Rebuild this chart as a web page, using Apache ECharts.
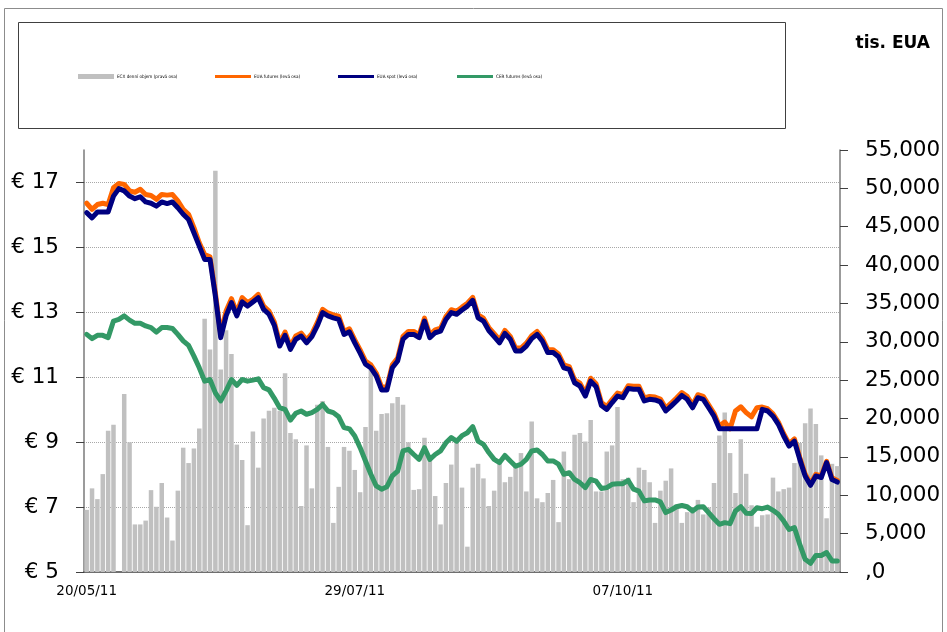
<!DOCTYPE html>
<html>
<head>
<meta charset="utf-8">
<script src="https://cdn.jsdelivr.net/npm/echarts@6/dist/echarts.min.js"></script>
<style>
  html, body { margin: 0; padding: 0; background: #fff; }
  #chart { width: 947px; height: 632px; }
</style>
</head>
<body>
<div id="chart"></div>
<script>
// ECX denni objem (tis. EUA), prava osa
let volume = [
  8100, 10900, 9500, 12760, 18400, 19200, 0, 23200, 16900, 6200,
  6200, 6700, 10670, 8500, 11600, 7100, 4100, 10600, 16200, 14200,
  16100, 18700, 33000, 29000, 52300, 26400, 31500, 28400, 16600, 14600,
  6100, 18300, 13600, 20000, 21000, 21400, 21000, 25900, 18100, 17300,
  8600, 16500, 10900, 21800, 22300, 16300, 6400, 11100, 16300, 15800,
  13300, 10400, 18900, 26400, 18400, 20600, 20700, 22000, 22800, 21800,
  16900, 10700, 10800, 17500, 14700, 9900, 6200, 11600, 14000, 17100,
  11000, 3300, 13600, 14100, 12200, 8600, 10600, 14400, 11700, 12400,
  13800, 15500, 10500, 19600, 9600, 9100, 10300, 12000, 6500, 15700,
  12100, 17900, 18100, 17000, 19800, 10500, 10500, 15700, 16500, 21500,
  12100, 12300, 9100, 13600, 13300, 11700, 6400, 10600, 11900, 13500,
  8800, 6400, 7800, 7800, 9400, 7500, 8400, 11600, 17800, 20800,
  15500, 10300, 17300, 12800, 8700, 5900, 7400, 7500, 12300, 10500,
  10800, 11000, 14200, 16800, 19400, 21300, 19300, 15200, 7000, 14100,
  13800
]

// EUA futures, leva osa (EUR)
let euaFutures = [
  16.36, 16.17, 16.32, 16.36, 16.32, 16.84, 16.97, 16.94, 16.74, 16.70,
  16.79, 16.63, 16.60, 16.48, 16.63, 16.61, 16.63, 16.43, 16.17, 16.02,
  15.61, 15.14, 14.78, 14.71, 13.60, 12.32, 13.04, 13.42, 12.99, 13.45,
  13.30, 13.40, 13.55, 13.19, 13.04, 12.70, 12.06, 12.39, 11.95, 12.27,
  12.36, 12.15, 12.34, 12.68, 13.09, 12.98, 12.92, 12.88, 12.41, 12.49,
  12.15, 11.84, 11.50, 11.38, 11.13, 10.70, 10.70, 11.38, 11.59, 12.26,
  12.41, 12.41, 12.31, 12.82, 12.31, 12.46, 12.51, 12.87, 13.08, 13.03,
  13.16, 13.28, 13.46, 12.92, 12.82, 12.53, 12.34, 12.15, 12.44, 12.26,
  11.90, 11.90, 12.05, 12.28, 12.41, 12.20, 11.85, 11.85, 11.72, 11.38,
  11.33, 10.92, 10.82, 10.51, 10.97, 10.80, 10.22, 10.10, 10.31, 10.51,
  10.46, 10.74, 10.72, 10.72, 10.36, 10.41, 10.39, 10.33, 10.05, 10.20,
  10.36, 10.53, 10.41, 10.15, 10.46, 10.41, 10.15, 9.89, 9.50, 9.62,
  9.41, 9.96, 10.09, 9.91, 9.78, 10.06, 10.08, 10.03, 9.87, 9.62,
  9.26, 8.95, 9.10, 8.53, 8.02, 7.72, 8.01, 7.96, 8.41, 7.90,
  7.82
]

// EUA spot, leva osa (EUR)
let euaSpot = [
  16.07, 15.91, 16.09, 16.09, 16.09, 16.58, 16.81, 16.74, 16.58, 16.50,
  16.56, 16.40, 16.36, 16.27, 16.40, 16.35, 16.40, 16.22, 16.02, 15.86,
  15.45, 15.04, 14.63, 14.63, 13.50, 12.22, 12.89, 13.30, 12.89, 13.32,
  13.19, 13.32, 13.45, 13.09, 12.94, 12.60, 11.96, 12.29, 11.86, 12.17,
  12.27, 12.06, 12.25, 12.58, 12.99, 12.89, 12.83, 12.78, 12.32, 12.40,
  12.06, 11.74, 11.40, 11.29, 11.04, 10.61, 10.61, 11.29, 11.50, 12.17,
  12.32, 12.32, 12.22, 12.73, 12.22, 12.37, 12.42, 12.78, 12.99, 12.94,
  13.07, 13.19, 13.37, 12.83, 12.73, 12.44, 12.25, 12.06, 12.35, 12.17,
  11.81, 11.81, 11.96, 12.19, 12.32, 12.11, 11.76, 11.76, 11.63, 11.29,
  11.24, 10.83, 10.73, 10.42, 10.88, 10.71, 10.13, 10.01, 10.22, 10.42,
  10.37, 10.65, 10.63, 10.63, 10.27, 10.32, 10.30, 10.24, 9.96, 10.11,
  10.27, 10.44, 10.32, 10.06, 10.37, 10.32, 10.06, 9.80, 9.41, 9.41,
  9.41, 9.41, 9.41, 9.41, 9.41, 9.41, 10.01, 9.96, 9.80, 9.55,
  9.19, 8.88, 9.03, 8.47, 7.96, 7.67, 7.96, 7.91, 8.37, 7.85,
  7.77
]

// CER futures, leva osa (EUR)
let cerFutures = [
  12.32, 12.19, 12.29, 12.29, 12.22, 12.73, 12.78, 12.89, 12.76, 12.66,
  12.66, 12.58, 12.53, 12.39, 12.53, 12.53, 12.50, 12.32, 12.12, 11.98,
  11.65, 11.29, 10.88, 10.93, 10.52, 10.27, 10.58, 10.93, 10.75, 10.93,
  10.88, 10.91, 10.95, 10.68, 10.61, 10.35, 10.06, 10.01, 9.68, 9.89,
  9.96, 9.86, 9.91, 10.01, 10.16, 9.96, 9.91, 9.78, 9.45, 9.41,
  9.19, 8.83, 8.42, 8.01, 7.65, 7.55, 7.63, 7.96, 8.11, 8.73,
  8.78, 8.62, 8.47, 8.83, 8.47, 8.62, 8.73, 8.98, 9.14, 9.03,
  9.20, 9.29, 9.48, 9.03, 8.93, 8.68, 8.47, 8.37, 8.59, 8.42,
  8.26, 8.32, 8.47, 8.73, 8.76, 8.62, 8.42, 8.42, 8.32, 8.01,
  8.06, 7.85, 7.75, 7.60, 7.85, 7.80, 7.57, 7.60, 7.70, 7.72,
  7.72, 7.82, 7.55, 7.49, 7.19, 7.22, 7.22, 7.16, 6.83, 6.91,
  7.01, 7.05, 7.01, 6.88, 7.00, 7.01, 6.83, 6.64, 6.47, 6.52,
  6.49, 6.88, 7.01, 6.81, 6.80, 6.98, 6.95, 7.00, 6.90, 6.78,
  6.57, 6.31, 6.37, 5.85, 5.39, 5.27, 5.51, 5.51, 5.60, 5.34,
  5.34
]

let seriesNames = [
  'ECX denní objem (pravá osa)',
  'EUA futures (levá osa)',
  'EUA spot (levá osa)',
  'CER futures (levá osa)'
]
let legendLeft = [73, 210, 333, 452]

// obchodni dny od 20/05/11
function pad (n) {
  return n < 10 ? '0' + n : '' + n
}
let dates = []
let d = new Date(Date.UTC(2011, 4, 20))
while (dates.length < volume.length) {
  let wd = d.getUTCDay()
  if (wd !== 0 && wd !== 6) {
    dates.push(pad(d.getUTCDate()) + '/' + pad(d.getUTCMonth() + 1) + '/' + String(d.getUTCFullYear()).slice(2))
  }
  d.setUTCDate(d.getUTCDate() + 1)
}

const FONT = '"DejaVu Sans", Verdana, sans-serif'
const SMALL_FONT = '"Liberation Sans Narrow", "DejaVu Sans Condensed", "Liberation Sans", sans-serif'

let legends = seriesNames.map((name, i) => ({
  data: [name],
  left: legendLeft[i],
  top: 69,
  icon: 'rect',
  itemWidth: 36,
  itemHeight: i === 0 ? 5 : 3,
  itemGap: 0,
  selectedMode: false,
  textStyle: { fontSize: 4.6, color: '#000', fontFamily: SMALL_FONT, padding: [0, 0, 0, -2] }
}))

let chart = echarts.init(document.getElementById('chart'), null, { renderer: 'canvas' })
let option = {
  animation: false,
  backgroundColor: '#fff',
  title: {
    text: 'tis. EUA',
    right: 12,
    top: 30,
    textStyle: { fontSize: 17, fontWeight: 'bold', color: '#000', fontFamily: FONT }
  },
  legend: legends,
  graphic: [
    {
      type: 'rect',
      shape: { x: 4.5, y: 8.5, width: 938, height: 640 },
      style: { fill: 'none', stroke: '#8c8c8c', lineWidth: 1 },
      silent: true
    },
    {
      type: 'rect',
      shape: { x: 18.5, y: 22.5, width: 767, height: 106 },
      style: { fill: 'none', stroke: '#404040', lineWidth: 1 },
      silent: true
    }
  ],
  grid: { left: 84, right: 107, top: 150, bottom: 60 },
  xAxis: {
    type: 'category',
    data: dates,
    boundaryGap: true,
    axisLine: { lineStyle: { color: '#404040', width: 1.5 } },
    axisTick: { interval: 21, length: 5, lineStyle: { color: '#404040' } },
    axisLabel: { interval: 49, margin: 12, fontSize: 13.5, color: '#000', fontFamily: FONT },
    splitLine: { show: false }
  },
  yAxis: [
    {
      type: 'value',
      position: 'left',
      min: 5,
      max: 18,
      interval: 2,
      axisLine: { show: true, lineStyle: { color: '#7a7a7a', width: 1.5 } },
      axisTick: { show: true, length: 8, lineStyle: { color: '#404040' } },
      axisLabel: {
        margin: 25,
        fontSize: 21.5,
        color: '#000',
        fontFamily: FONT,
        showMaxLabel: false,
        formatter: v => '€ ' + v
      },
      splitLine: { show: true, showMinLine: false, showMaxLine: false, lineStyle: { color: '#a8a8a8', type: 'dotted', width: 1 } }
    },
    {
      type: 'value',
      position: 'right',
      min: 0,
      max: 55000,
      interval: 5000,
      axisLine: { show: true, lineStyle: { color: '#7a7a7a', width: 1.5 } },
      axisTick: { show: true, length: 8, lineStyle: { color: '#404040' } },
      axisLabel: {
        margin: 25,
        fontSize: 21.5,
        color: '#000',
        fontFamily: FONT,
        formatter: v => v === 0 ? ',0' : v.toLocaleString('en-US')
      },
      splitLine: { show: false }
    }
  ],
  series: [
    {
      name: seriesNames[0],
      type: 'bar',
      yAxisIndex: 1,
      data: volume,
      barCategoryGap: '16%',
      itemStyle: { color: '#c0c0c0' }
    },
    {
      name: seriesNames[1],
      type: 'line',
      data: euaFutures,
      symbol: 'none',
      lineStyle: { color: '#ff6600', width: 5, join: 'round', cap: 'round' },
      itemStyle: { color: '#ff6600' }
    },
    {
      name: seriesNames[2],
      type: 'line',
      data: euaSpot,
      symbol: 'none',
      lineStyle: { color: '#000080', width: 5, join: 'round', cap: 'round' },
      itemStyle: { color: '#000080' }
    },
    {
      name: seriesNames[3],
      type: 'line',
      data: cerFutures,
      symbol: 'none',
      lineStyle: { color: '#339966', width: 5, join: 'round', cap: 'round' },
      itemStyle: { color: '#339966' }
    }
  ]
}
chart.setOption(option)
window.onresize = function () {
  chart.resize()
}
</script>
</body>
</html>
